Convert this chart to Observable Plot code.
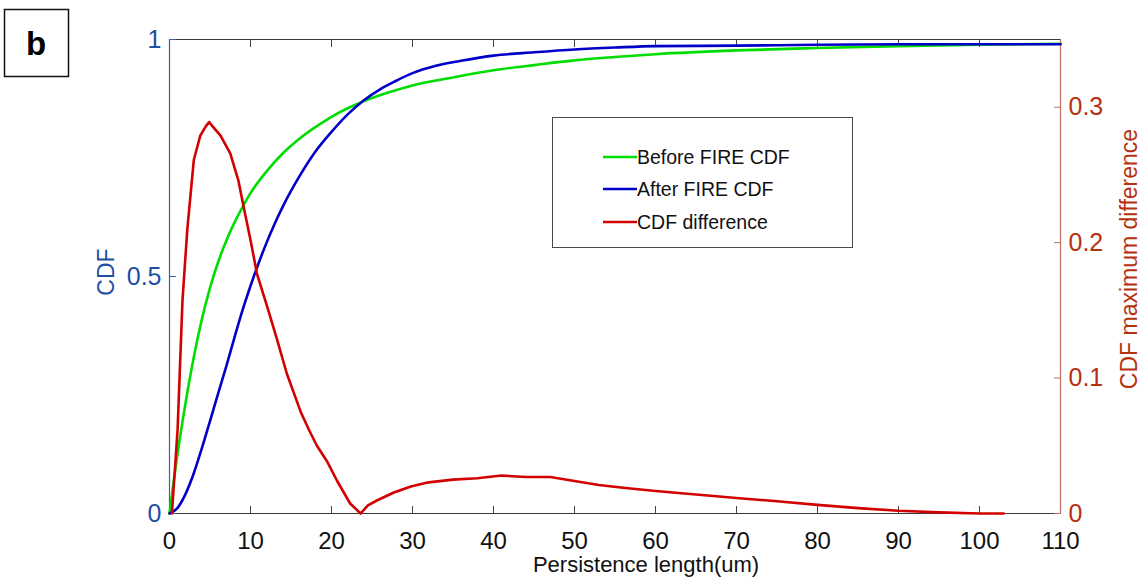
<!DOCTYPE html>
<html><head><meta charset="utf-8">
<script src="https://cdn.jsdelivr.net/npm/d3@7"></script>
<script src="https://cdn.jsdelivr.net/npm/@observablehq/plot@0.6"></script>
<style>
body{margin:0;background:#fff;font-family:"Liberation Sans",Arial,sans-serif}
#chart{position:relative;width:1143px;height:579px}
</style></head><body><div id="chart"></div>
<script>
// Persistence length (um) samples and values
const beforeX = [0, 0.5, 1, 1.5, 2, 3, 4, 5, 6, 7, 8, 9, 10, 12, 14, 16, 18, 20, 22, 24, 27, 30, 35, 40, 45, 50, 55, 60, 70, 80, 90, 100, 110];
const beforeY = [0, 0.066, 0.127, 0.183, 0.235, 0.33, 0.41, 0.476, 0.53, 0.575, 0.613, 0.646, 0.676, 0.722, 0.76, 0.79, 0.815, 0.837, 0.855, 0.87, 0.888, 0.903, 0.92, 0.935, 0.946, 0.956, 0.963, 0.969, 0.977, 0.982, 0.986, 0.989, 0.991];
const afterX = [0, 1, 2, 3, 4, 5, 6, 7, 8, 9, 10, 11, 12, 13, 14, 16, 18, 20, 22, 24, 26, 28, 30, 33, 36, 40, 45, 50, 55, 60, 70, 80, 90, 100, 110];
const afterY = [0, 0.012, 0.042, 0.085, 0.138, 0.195, 0.253, 0.31, 0.37, 0.428, 0.48, 0.528, 0.572, 0.612, 0.648, 0.71, 0.763, 0.805, 0.842, 0.872, 0.895, 0.913, 0.929, 0.945, 0.955, 0.966, 0.973, 0.979, 0.983, 0.986, 0.987, 0.989, 0.99, 0.99, 0.99];
const diffX = [0.3, 1.0, 1.6, 2.2, 3.0, 3.8, 4.5, 4.9, 5.3, 6.3, 7.5, 8.5, 9.1, 10, 10.8, 12.1, 13.3, 14.5, 16.2, 17.2, 18.2, 19.5, 20.7, 22.3, 23.6, 24.5, 25.6, 27.7, 29.8, 32, 35, 38, 41, 44, 47, 50, 53, 56, 60, 65, 70, 75, 80, 85, 90, 95, 100, 103];
const diffY = [0, 0.062, 0.157, 0.21, 0.261, 0.279, 0.286, 0.289, 0.286, 0.279, 0.266, 0.246, 0.228, 0.202, 0.177, 0.152, 0.128, 0.103, 0.075, 0.062, 0.05, 0.038, 0.024, 0.0074, 0, 0.006, 0.0096, 0.0155, 0.02, 0.023, 0.025, 0.026, 0.028, 0.027, 0.027, 0.024, 0.021, 0.019, 0.0166, 0.014, 0.0115, 0.009, 0.0064, 0.004, 0.002, 0.0008, 0, 0];

const xTicks = [0, 10, 20, 30, 40, 50, 60, 70, 80, 90, 100, 110];
const leftTicks = [0, 0.5, 1];
const rightTicks = [0, 0.1, 0.2, 0.3];
const rightMax = 0.35;
const seriesNames = ["Before FIRE CDF", "After FIRE CDF", "CDF difference"];
const seriesColors = ["#00dd00", "#0000c8", "#d20000"];
const xLabel = "Persistence length(um)";
const leftLabel = "CDF";
const rightLabel = "CDF maximum difference";
const panelLetter = "b";

const leftColor = "#1f4fa3", leftLine = "#3f5f9f";
const rightColor = "#b5310f", rightLine = "#c46a64";
const font = "Liberation Sans, Arial, sans-serif";

const before = beforeX.map((x, i) => ({x, y: beforeY[i]}));
const after = afterX.map((x, i) => ({x, y: afterY[i]}));
const diff = diffX.map((x, i) => ({x, y: diffY[i] / rightMax}));

const W = 1143, H = 579, mL = 169, mR = 83, mT = 39, mB = 66;

const plot = Plot.plot({
  width: W, height: H,
  marginLeft: mL, marginRight: mR, marginTop: mT, marginBottom: mB,
  style: {fontFamily: font, background: "white", overflow: "visible"},
  x: {domain: [0, 110]},
  y: {domain: [0, 1]},
  marks: [
    Plot.ruleY([1], {stroke: "#3a3a3a", strokeWidth: 1}),
    Plot.ruleY([0], {stroke: "#3a3a3a", strokeWidth: 1}),
    Plot.axisX(xTicks, {anchor: "top", tickSize: -7, tickFormat: () => "", label: null, stroke: "#444"}),
    Plot.axisX(xTicks, {anchor: "bottom", tickSize: -7, tickPadding: 25, fontSize: 24, label: null, stroke: "#444", fill: "#111"}),
    Plot.axisY(leftTicks, {anchor: "left", tickSize: -7, tickPadding: 15, fontSize: 25, label: null, stroke: leftLine, fill: leftColor, tickFormat: d => String(d)}),
    Plot.axisY(rightTicks.map(v => v / rightMax), {anchor: "right", tickSize: -7, tickPadding: 15, fontSize: 25, label: null, stroke: rightLine, fill: rightColor, tickFormat: v => String(Math.round(v * rightMax * 10) / 10)}),
    Plot.ruleX([0], {stroke: leftLine, strokeWidth: 1.2}),
    Plot.ruleX([110], {stroke: rightLine, strokeWidth: 1.2}),
    Plot.line(before, {x: "x", y: "y", stroke: seriesColors[0], strokeWidth: 2.6, curve: "monotone-x"}),
    Plot.line(after, {x: "x", y: "y", stroke: seriesColors[1], strokeWidth: 2.6, curve: "monotone-x"}),
    Plot.line(diff, {x: "x", y: "y", stroke: seriesColors[2], strokeWidth: 2.6, curve: "linear"})
  ]
});
document.getElementById("chart").appendChild(plot);

const svg = d3.select(plot);
// axis titles
svg.append("text").attr("x", 646).attr("y", 572).attr("text-anchor", "middle")
  .attr("font-family", font).attr("font-size", 22).attr("fill", "#111").text(xLabel);
svg.append("text").attr("transform", "translate(114,272) rotate(-90)").attr("text-anchor", "middle")
  .attr("font-family", font).attr("font-size", 23).attr("fill", leftColor).text(leftLabel);
svg.append("text").attr("transform", "translate(1137,259) rotate(-90)").attr("text-anchor", "middle")
  .attr("font-family", font).attr("font-size", 23).attr("fill", rightColor).text(rightLabel);

// legend
const lg = svg.append("g");
lg.append("rect").attr("x", 552.5).attr("y", 117.5).attr("width", 300).attr("height", 130)
  .attr("fill", "white").attr("stroke", "#4a4a4a").attr("stroke-width", 1);
const rowsY = [157, 189, 222];
seriesNames.forEach((name, i) => {
  lg.append("line").attr("x1", 603).attr("x2", 637).attr("y1", rowsY[i]).attr("y2", rowsY[i])
    .attr("stroke", seriesColors[i]).attr("stroke-width", 2.6);
  lg.append("text").attr("x", 637).attr("y", rowsY[i]).attr("dy", "0.35em").attr("text-anchor", "start")
    .attr("font-family", font).attr("font-size", 19.5).attr("fill", "#111").text(name);
});

// panel letter
svg.append("rect").attr("x", 4.5).attr("y", 9.5).attr("width", 64).attr("height", 67)
  .attr("fill", "white").attr("stroke", "#111").attr("stroke-width", 1.5);
svg.append("text").attr("x", 36).attr("y", 55).attr("text-anchor", "middle")
  .attr("font-family", font).attr("font-weight", "bold").attr("font-size", 33).attr("fill", "#000").text(panelLetter);
</script></body></html>
